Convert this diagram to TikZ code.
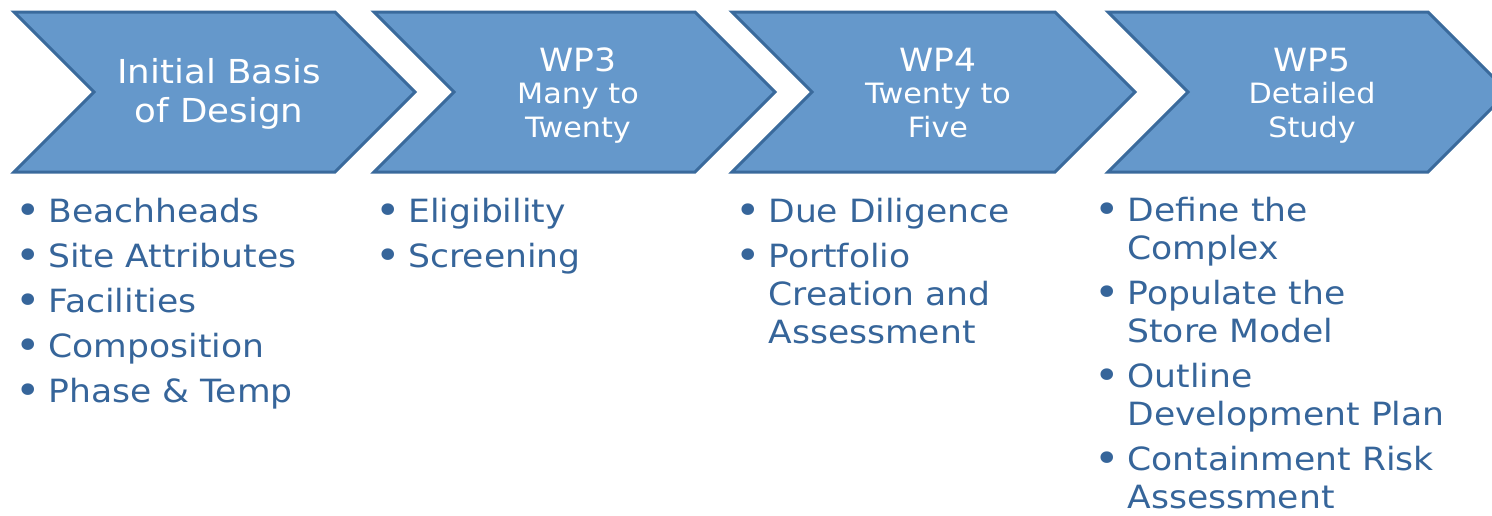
\documentclass[tikz,border=0pt]{standalone}
\usepackage{fontspec}
\setmainfont[FakeStretch=1.08]{DejaVu Sans}
\definecolor{chevfill}{HTML}{6598CB}
\definecolor{chevline}{HTML}{3A6A9C}
\definecolor{itemtext}{HTML}{36659A}
\newcommand{\wpbul}{\makebox[16.5pt][l]{\fontsize{20}{19}\selectfont\raisebox{-1pt}{\textbullet}}}
\newcommand{\wpgap}{\hspace*{16.5pt}}
\newcommand{\wpbig}{\fontsize{16}{19}\selectfont}
\tikzset{
  chevron/.style={fill=chevfill, draw=chevline, line width=1.5pt, line join=miter},
  headtext/.style={text=white, align=center, anchor=base, inner sep=0pt},
  itemlist/.style={text=itemtext, align=left, anchor=base west, inner sep=0pt, font=\fontsize{16}{19}\selectfont}
}

\begin{document}
\begin{tikzpicture}[x=0.5pt, y=-0.5pt]
        \useasboundingbox (0,0) rectangle (1492,515);
        \clip (0,0) rectangle (1492,515);
        % chevrons
        \foreach \l/\r in {14/335, 374/695, 732/1055, 1108/1428} {
            \draw[chevron] (\l,12) -- (\r,12) -- (\r+80,92) -- (\r,172) -- (\l,172) -- (\l+80,92) -- cycle;
        }
        \node[headtext, font=\fontsize{16.5}{19.5}\selectfont] (basis) at (219,122) {Initial Basis\\of Design};
        \node[headtext, font=\fontsize{14}{17}\selectfont] (wp3) at (578,137) {{\wpbig WP3}\\[-1pt]Many to\\Twenty};
        \node[headtext, font=\fontsize{14}{17}\selectfont] (wp4) at (938,137) {{\wpbig WP4}\\[-1pt]Twenty to\\Five};
        \node[headtext, font=\fontsize{14}{17}\selectfont] (wp5) at (1312,137) {{\wpbig WP5}\\[-1pt]Detailed\\Study};
        % bullet lists
        \node[itemlist] (basislist) at (15,402) {\wpbul Beachheads\\[3.5pt]\wpbul Site Attributes\\[3.5pt]\wpbul Facilities\\[3.5pt]\wpbul Composition\\[3.5pt]\wpbul Phase \& Temp};
        \node[itemlist] (wp3list) at (375,267) {\wpbul Eligibility\\[3.5pt]\wpbul Screening};
        \node[itemlist] (wp4list) at (735,343) {\wpbul Due Diligence\\[3.5pt]\wpbul Portfolio\\\wpgap Creation and\\\wpgap Assessment};
        \node[itemlist] (wp5list) at (1094,508) {\wpbul Define the\\\wpgap Complex\\[3.5pt]\wpbul Populate the\\\wpgap Store Model\\[3.5pt]\wpbul Outline\\\wpgap Development Plan\\[3.5pt]\wpbul Containment Risk\\\wpgap Assessment};
\end{tikzpicture}
\end{document}
